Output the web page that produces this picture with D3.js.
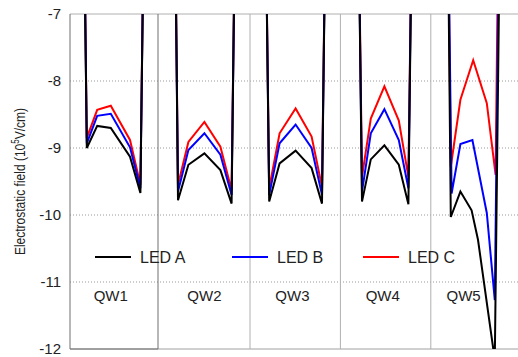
<!DOCTYPE html>
<html>
<head>
<meta charset="utf-8">
<script src="https://cdn.jsdelivr.net/npm/d3@7"></script>
<style>
  body { margin: 0; background: #fff; }
  text { font-family: "Liberation Sans", Arial, sans-serif; fill: #222; }
</style>
</head>
<body>
<div id="chart"></div>
<script>
// posiciones (nm) y campo electrostatico (10^5 V/cm)
const posA = [1.6, 2.1, 3.4, 5.1, 7.5, 8.8, 9.4,
              13.0, 13.5, 14.8, 16.8, 18.8, 20.2, 20.8,
              24.3, 24.9, 26.2, 28.2, 30.2, 31.5, 32.1,
              35.9, 36.5, 37.6, 39.3, 41.1, 42.3, 42.9,
              47.1, 47.6, 48.8, 50.2, 51.0, 52.9, 53.1, 53.9];
const ledA = [-4, -9.0, -8.67, -8.70, -9.13, -9.67, -4,
              -4, -9.78, -9.25, -9.08, -9.33, -9.83, -4,
              -4, -9.80, -9.23, -9.04, -9.30, -9.83, -4,
              -4, -9.80, -9.17, -8.96, -9.25, -9.84, -4,
              -4, -10.03, -9.65, -9.93, -10.37, -11.99, -12.15, -4];

const posB = [1.6, 2.1, 3.4, 5.1, 7.5, 8.8, 9.4,
              13.0, 13.5, 14.8, 16.8, 18.8, 20.2, 20.8,
              24.3, 24.9, 26.2, 28.2, 30.2, 31.5, 32.1,
              35.9, 36.5, 37.6, 39.3, 41.1, 42.3, 42.9,
              47.1, 47.7, 48.8, 50.3, 52.1, 53.1, 53.8];
const ledB = [-4, -8.93, -8.52, -8.49, -8.99, -9.60, -4,
              -4, -9.65, -9.03, -8.78, -9.10, -9.70, -4,
              -4, -9.70, -8.93, -8.65, -9.00, -9.70, -4,
              -4, -9.65, -8.78, -8.42, -8.88, -9.60, -4,
              -4, -9.68, -8.94, -8.88, -9.97, -11.27, -4];

const posC = [1.6, 2.1, 3.4, 5.1, 7.5, 8.8, 9.4,
              13.0, 13.5, 14.8, 16.8, 18.8, 20.2, 20.8,
              24.3, 24.9, 26.2, 28.2, 30.2, 31.5, 32.1,
              35.9, 36.5, 37.6, 39.3, 41.1, 42.3, 42.9,
              47.1, 47.6, 48.8, 50.4, 52.1, 53.2, 53.7];
const ledC = [-4, -8.85, -8.43, -8.37, -8.88, -9.55, -4,
              -4, -9.55, -8.91, -8.61, -8.98, -9.63, -4,
              -4, -9.60, -8.78, -8.41, -8.83, -9.58, -4,
              -4, -9.43, -8.56, -8.08, -8.59, -9.43, -4,
              -4, -9.28, -8.28, -7.69, -8.33, -9.40, -4];

const seriesNames = ["LED A", "LED B", "LED C"];
const seriesColors = ["#000000", "#0000ff", "#ff0000"];

const yTicks = [-7, -8, -9, -10, -11, -12];
const wellNames = ["QW1", "QW2", "QW3", "QW4", "QW5"];
const wellCenters = [5.1, 16.8, 27.8, 39.1, 49.2];
const wellBounds = [11.0, 22.5, 33.8, 45.1];

const width = 518, height = 357;
const margin = {top: 14, right: 0, bottom: 8, left: 70};

const svg = d3.select("#chart").append("svg")
    .attr("width", width)
    .attr("height", height);

const x = d3.scaleLinear().domain([0, 56]).range([margin.left, width - margin.right]);
const y = d3.scaleLinear().domain([-12, -7]).range([height - margin.bottom, margin.top]);

// lineas de cuadricula punteadas
svg.selectAll(".grid")
    .data(yTicks.filter(t => t !== -7 && t !== -12))
    .enter().append("line")
    .attr("x1", x(0)).attr("x2", x(56))
    .attr("y1", d => y(d)).attr("y2", d => y(d))
    .attr("stroke", "#999")
    .attr("stroke-width", 1)
    .attr("stroke-dasharray", "1,2");

// marco
svg.append("line")
    .attr("x1", x(0)).attr("x2", x(56)).attr("y1", y(-7)).attr("y2", y(-7))
    .attr("stroke", "#b0b0b0");
svg.append("line")
    .attr("x1", x(0)).attr("x2", x(56)).attr("y1", y(-12)).attr("y2", y(-12))
    .attr("stroke", "#a0a0a0");
svg.append("line")
    .attr("x1", x(0)).attr("x2", x(wellBounds[0])).attr("y1", y(-12)).attr("y2", y(-12))
    .attr("stroke", "#707070");
svg.append("line")
    .attr("x1", x(0)).attr("x2", x(0)).attr("y1", y(-7)).attr("y2", y(-12))
    .attr("stroke", "#707070");

// separadores de pozos
svg.selectAll(".sep")
    .data(wellBounds)
    .enter().append("line")
    .attr("x1", d => x(d)).attr("x2", d => x(d))
    .attr("y1", y(-7)).attr("y2", y(-12))
    .attr("stroke", (d, i) => i === 0 ? "#707070" : "#b0b0b0");

// eje y
const yAxis = d3.axisLeft(y).tickValues(yTicks).tickFormat(d => String(d)).tickSize(0).tickPadding(9);
const gy = svg.append("g")
    .attr("transform", "translate(" + margin.left + ",0)")
    .call(yAxis);
gy.select(".domain").remove();
gy.selectAll("text")
    .style("font-family", '"Liberation Sans", Arial, sans-serif')
    .style("font-size", "15px")
    .attr("fill", "#222");

// titulo eje y
const ylab = svg.append("text")
    .attr("transform", "translate(25," + ((y(-7) + y(-12)) / 2) + ") rotate(-90) scale(0.8,1)")
    .attr("text-anchor", "middle")
    .style("font-size", "15px");
ylab.append("tspan").text("Electrostatic field (10");
ylab.append("tspan").attr("dy", -6).style("font-size", "10px").text("5");
ylab.append("tspan").attr("dy", 6).text("V/cm)");

// lineas
svg.append("clipPath").attr("id", "clip")
    .append("rect")
    .attr("x", x(0)).attr("y", y(-7))
    .attr("width", x(56) - x(0)).attr("height", y(-12) - y(-7));

const line = d3.line().x(d => x(d[0])).y(d => y(d[1]));
const allSeries = [
    d3.zip(posA, ledA),
    d3.zip(posB, ledB),
    d3.zip(posC, ledC)
];

const plot = svg.append("g").attr("clip-path", "url(#clip)");
[2, 1, 0].forEach(i => {
    plot.append("path")
        .datum(allSeries[i])
        .attr("d", line)
        .attr("fill", "none")
        .attr("stroke", seriesColors[i])
        .attr("stroke-width", 2)
        .attr("stroke-linejoin", "miter");
});

// etiquetas de pozos
svg.selectAll(".qw")
    .data(wellNames)
    .enter().append("text")
    .attr("x", (d, i) => x(wellCenters[i]))
    .attr("y", 301)
    .attr("text-anchor", "middle")
    .style("font-size", "15px")
    .text(d => d);

// leyenda
const legX = [95, 232, 363];
const leg = svg.selectAll(".leg")
    .data(seriesNames)
    .enter().append("g")
    .attr("transform", (d, i) => "translate(" + legX[i] + ",257)");
leg.append("line")
    .attr("x1", 0).attr("x2", 36)
    .attr("stroke", (d, i) => seriesColors[i])
    .attr("stroke-width", 2);
leg.append("text")
    .attr("x", 45)
    .attr("y", 5.5)
    .style("font-size", "16px")
    .text(d => d);
</script>
</body>
</html>
